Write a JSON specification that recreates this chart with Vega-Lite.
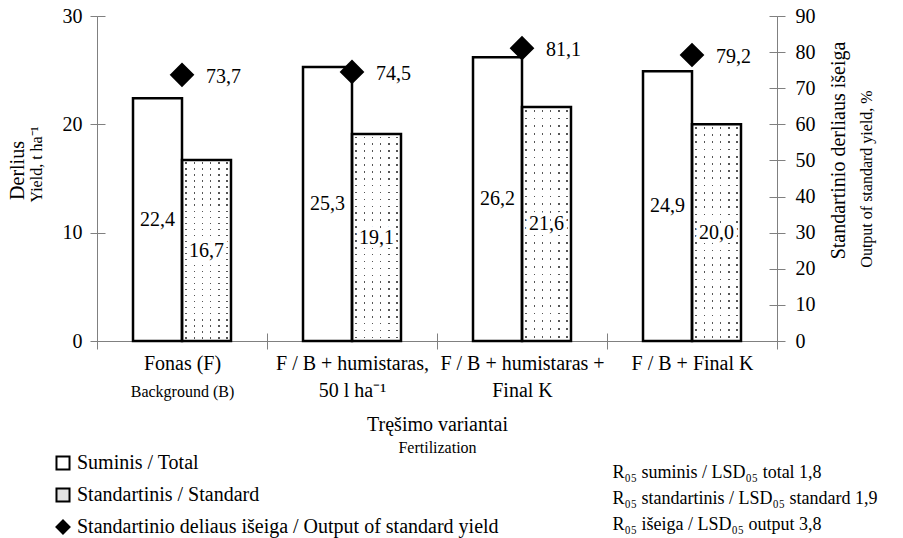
{
  "$schema": "https://vega.github.io/schema/vega-lite/v6.json",
  "width": 680,
  "height": 325,
  "autosize": "none",
  "padding": {"left": 97, "top": 16, "right": 126, "bottom": 197},
  "background": "white",
  "config": {
    "font": "Liberation Serif, Times New Roman, serif",
    "view": {"stroke": null},
    "locale": {"number": {"decimal": ",", "thousands": " ", "grouping": [3], "currency": ["", ""]}},
    "axis": {"grid": false, "domainColor": "#808080", "tickColor": "#808080", "labelColor": "black", "titleColor": "black", "labelFont": "Liberation Serif, Times New Roman, serif", "titleFont": "Liberation Serif, Times New Roman, serif", "titleFontWeight": "normal", "labelFontSize": 20, "titleFontSize": 20},
    "legend": {"labelFont": "Liberation Serif, Times New Roman, serif"},
    "text": {"font": "Liberation Serif, Times New Roman, serif"}
  },
  "datasets": {
    "bars": [
      {"variant": "Fonas (F) / Background (B)", "series": "Suminis", "value": 22.4},
      {"variant": "Fonas (F) / Background (B)", "series": "Standartinis", "value": 16.7},
      {"variant": "F / B + humistaras, 50 l ha⁻¹", "series": "Suminis", "value": 25.3},
      {"variant": "F / B + humistaras, 50 l ha⁻¹", "series": "Standartinis", "value": 19.1},
      {"variant": "F / B + humistaras + Final K", "series": "Suminis", "value": 26.2},
      {"variant": "F / B + humistaras + Final K", "series": "Standartinis", "value": 21.6},
      {"variant": "F / B + Final K", "series": "Suminis", "value": 24.9},
      {"variant": "F / B + Final K", "series": "Standartinis", "value": 20.0}
    ],
    "output": [
      {"variant": "Fonas (F) / Background (B)", "series": "Standartinio deliaus išeiga", "output": 73.7},
      {"variant": "F / B + humistaras, 50 l ha⁻¹", "series": "Standartinio deliaus išeiga", "output": 74.5},
      {"variant": "F / B + humistaras + Final K", "series": "Standartinio deliaus išeiga", "output": 81.1},
      {"variant": "F / B + Final K", "series": "Standartinio deliaus išeiga", "output": 79.2}
    ]
  },
  "layer": [
    {
      "data": {"name": "bars"},
      "transform": [{"filter": "datum.series == 'Standartinis'"}],
      "mark": {"type": "bar", "strokeWidth": 0, "fill": {"gradient": "linear", "x1": 0, "y1": 0, "x2": 1, "y2": 0, "stops": [
        {"offset": 0, "color": "#ffffff"},
        {"offset": 0.07, "color": "#ffffff"}, {"offset": 0.07, "color": "#555555"}, {"offset": 0.1, "color": "#555555"}, {"offset": 0.1, "color": "#ffffff"},
        {"offset": 0.2367, "color": "#ffffff"}, {"offset": 0.2367, "color": "#555555"}, {"offset": 0.2667, "color": "#555555"}, {"offset": 0.2667, "color": "#ffffff"},
        {"offset": 0.4033, "color": "#ffffff"}, {"offset": 0.4033, "color": "#555555"}, {"offset": 0.4333, "color": "#555555"}, {"offset": 0.4333, "color": "#ffffff"},
        {"offset": 0.57, "color": "#ffffff"}, {"offset": 0.57, "color": "#555555"}, {"offset": 0.6, "color": "#555555"}, {"offset": 0.6, "color": "#ffffff"},
        {"offset": 0.7367, "color": "#ffffff"}, {"offset": 0.7367, "color": "#555555"}, {"offset": 0.7667, "color": "#555555"}, {"offset": 0.7667, "color": "#ffffff"},
        {"offset": 0.9033, "color": "#ffffff"}, {"offset": 0.9033, "color": "#555555"}, {"offset": 0.9333, "color": "#555555"}, {"offset": 0.9333, "color": "#ffffff"},
        {"offset": 1, "color": "#ffffff"}
      ]}},
      "encoding": {
        "x": {"field": "variant", "type": "nominal", "sort": null,
          "scale": {"domain": ["Fonas (F) / Background (B)", "F / B + humistaras, 50 l ha⁻¹", "F / B + humistaras + Final K", "F / B + Final K"], "paddingInner": 0, "paddingOuter": 0},
          "axis": {"orient": "bottom", "title": "Tręšimo variantai", "titleFontSize": 20, "titlePadding": 14, "labelFontSize": 20, "labelAngle": 0, "labelLineHeight": 27, "labelPadding": 4, "labelLimit": 400, "labelOverlap": false, "tickSize": 8, "tickBand": "extent",
            "labelExpr": "datum.value == 'Fonas (F) / Background (B)' ? 'Fonas (F)' : datum.value == 'F / B + humistaras, 50 l ha⁻¹' ? ['F / B + humistaras,', '50 l ha⁻¹'] : datum.value == 'F / B + humistaras + Final K' ? ['F / B + humistaras +', 'Final K'] : datum.value == 'F / B + Final K' ? 'F / B + Final K' : ''"}},
        "xOffset": {"field": "series", "type": "nominal", "scale": {"domain": ["Suminis", "Standartinis"], "paddingInner": 0, "paddingOuter": 0.735}},
        "y": {"field": "value", "type": "quantitative", "scale": {"domain": [0, 30], "nice": false},
          "axis": {"orient": "left", "values": [0, 10, 20, 30], "tickSize": 7, "labelPadding": 8, "labelFontSize": 20, "title": "Derlius", "titleFontSize": 20, "titlePadding": 35, "titleY": 154}}
      }
    },
    {
      "data": {"name": "bars"},
      "transform": [{"filter": "datum.series == 'Standartinis'"}],
      "mark": {"type": "bar", "strokeWidth": 0, "fill": {"gradient": "linear", "x1": 0, "y1": 0, "x2": 0, "y2": 1, "stops": [
        {"offset": 0, "color": "#ffffff"},
        {"offset": 0.012, "color": "#ffffff"}, {"offset": 0.012, "color": "rgba(255,255,255,0)"}, {"offset": 0.02, "color": "rgba(255,255,255,0)"}, {"offset": 0.02, "color": "#ffffff"},
        {"offset": 0.0453, "color": "#ffffff"}, {"offset": 0.0453, "color": "rgba(255,255,255,0)"}, {"offset": 0.0533, "color": "rgba(255,255,255,0)"}, {"offset": 0.0533, "color": "#ffffff"},
        {"offset": 0.0787, "color": "#ffffff"}, {"offset": 0.0787, "color": "rgba(255,255,255,0)"}, {"offset": 0.0867, "color": "rgba(255,255,255,0)"}, {"offset": 0.0867, "color": "#ffffff"},
        {"offset": 0.112, "color": "#ffffff"}, {"offset": 0.112, "color": "rgba(255,255,255,0)"}, {"offset": 0.12, "color": "rgba(255,255,255,0)"}, {"offset": 0.12, "color": "#ffffff"},
        {"offset": 0.1453, "color": "#ffffff"}, {"offset": 0.1453, "color": "rgba(255,255,255,0)"}, {"offset": 0.1533, "color": "rgba(255,255,255,0)"}, {"offset": 0.1533, "color": "#ffffff"},
        {"offset": 0.1787, "color": "#ffffff"}, {"offset": 0.1787, "color": "rgba(255,255,255,0)"}, {"offset": 0.1867, "color": "rgba(255,255,255,0)"}, {"offset": 0.1867, "color": "#ffffff"},
        {"offset": 0.212, "color": "#ffffff"}, {"offset": 0.212, "color": "rgba(255,255,255,0)"}, {"offset": 0.22, "color": "rgba(255,255,255,0)"}, {"offset": 0.22, "color": "#ffffff"},
        {"offset": 0.2453, "color": "#ffffff"}, {"offset": 0.2453, "color": "rgba(255,255,255,0)"}, {"offset": 0.2533, "color": "rgba(255,255,255,0)"}, {"offset": 0.2533, "color": "#ffffff"},
        {"offset": 0.2787, "color": "#ffffff"}, {"offset": 0.2787, "color": "rgba(255,255,255,0)"}, {"offset": 0.2867, "color": "rgba(255,255,255,0)"}, {"offset": 0.2867, "color": "#ffffff"},
        {"offset": 0.312, "color": "#ffffff"}, {"offset": 0.312, "color": "rgba(255,255,255,0)"}, {"offset": 0.32, "color": "rgba(255,255,255,0)"}, {"offset": 0.32, "color": "#ffffff"},
        {"offset": 0.3453, "color": "#ffffff"}, {"offset": 0.3453, "color": "rgba(255,255,255,0)"}, {"offset": 0.3533, "color": "rgba(255,255,255,0)"}, {"offset": 0.3533, "color": "#ffffff"},
        {"offset": 0.3787, "color": "#ffffff"}, {"offset": 0.3787, "color": "rgba(255,255,255,0)"}, {"offset": 0.3867, "color": "rgba(255,255,255,0)"}, {"offset": 0.3867, "color": "#ffffff"},
        {"offset": 0.412, "color": "#ffffff"}, {"offset": 0.412, "color": "rgba(255,255,255,0)"}, {"offset": 0.42, "color": "rgba(255,255,255,0)"}, {"offset": 0.42, "color": "#ffffff"},
        {"offset": 0.4453, "color": "#ffffff"}, {"offset": 0.4453, "color": "rgba(255,255,255,0)"}, {"offset": 0.4533, "color": "rgba(255,255,255,0)"}, {"offset": 0.4533, "color": "#ffffff"},
        {"offset": 0.4787, "color": "#ffffff"}, {"offset": 0.4787, "color": "rgba(255,255,255,0)"}, {"offset": 0.4867, "color": "rgba(255,255,255,0)"}, {"offset": 0.4867, "color": "#ffffff"},
        {"offset": 0.512, "color": "#ffffff"}, {"offset": 0.512, "color": "rgba(255,255,255,0)"}, {"offset": 0.52, "color": "rgba(255,255,255,0)"}, {"offset": 0.52, "color": "#ffffff"},
        {"offset": 0.5453, "color": "#ffffff"}, {"offset": 0.5453, "color": "rgba(255,255,255,0)"}, {"offset": 0.5533, "color": "rgba(255,255,255,0)"}, {"offset": 0.5533, "color": "#ffffff"},
        {"offset": 0.5787, "color": "#ffffff"}, {"offset": 0.5787, "color": "rgba(255,255,255,0)"}, {"offset": 0.5867, "color": "rgba(255,255,255,0)"}, {"offset": 0.5867, "color": "#ffffff"},
        {"offset": 0.612, "color": "#ffffff"}, {"offset": 0.612, "color": "rgba(255,255,255,0)"}, {"offset": 0.62, "color": "rgba(255,255,255,0)"}, {"offset": 0.62, "color": "#ffffff"},
        {"offset": 0.6453, "color": "#ffffff"}, {"offset": 0.6453, "color": "rgba(255,255,255,0)"}, {"offset": 0.6533, "color": "rgba(255,255,255,0)"}, {"offset": 0.6533, "color": "#ffffff"},
        {"offset": 0.6787, "color": "#ffffff"}, {"offset": 0.6787, "color": "rgba(255,255,255,0)"}, {"offset": 0.6867, "color": "rgba(255,255,255,0)"}, {"offset": 0.6867, "color": "#ffffff"},
        {"offset": 0.712, "color": "#ffffff"}, {"offset": 0.712, "color": "rgba(255,255,255,0)"}, {"offset": 0.72, "color": "rgba(255,255,255,0)"}, {"offset": 0.72, "color": "#ffffff"},
        {"offset": 0.7453, "color": "#ffffff"}, {"offset": 0.7453, "color": "rgba(255,255,255,0)"}, {"offset": 0.7533, "color": "rgba(255,255,255,0)"}, {"offset": 0.7533, "color": "#ffffff"},
        {"offset": 0.7787, "color": "#ffffff"}, {"offset": 0.7787, "color": "rgba(255,255,255,0)"}, {"offset": 0.7867, "color": "rgba(255,255,255,0)"}, {"offset": 0.7867, "color": "#ffffff"},
        {"offset": 0.812, "color": "#ffffff"}, {"offset": 0.812, "color": "rgba(255,255,255,0)"}, {"offset": 0.82, "color": "rgba(255,255,255,0)"}, {"offset": 0.82, "color": "#ffffff"},
        {"offset": 0.8453, "color": "#ffffff"}, {"offset": 0.8453, "color": "rgba(255,255,255,0)"}, {"offset": 0.8533, "color": "rgba(255,255,255,0)"}, {"offset": 0.8533, "color": "#ffffff"},
        {"offset": 0.8787, "color": "#ffffff"}, {"offset": 0.8787, "color": "rgba(255,255,255,0)"}, {"offset": 0.8867, "color": "rgba(255,255,255,0)"}, {"offset": 0.8867, "color": "#ffffff"},
        {"offset": 0.912, "color": "#ffffff"}, {"offset": 0.912, "color": "rgba(255,255,255,0)"}, {"offset": 0.92, "color": "rgba(255,255,255,0)"}, {"offset": 0.92, "color": "#ffffff"},
        {"offset": 0.9453, "color": "#ffffff"}, {"offset": 0.9453, "color": "rgba(255,255,255,0)"}, {"offset": 0.9533, "color": "rgba(255,255,255,0)"}, {"offset": 0.9533, "color": "#ffffff"},
        {"offset": 0.9787, "color": "#ffffff"}, {"offset": 0.9787, "color": "rgba(255,255,255,0)"}, {"offset": 0.9867, "color": "rgba(255,255,255,0)"}, {"offset": 0.9867, "color": "#ffffff"},
        {"offset": 1, "color": "#ffffff"}
      ]}},
      "encoding": {
        "x": {"field": "variant", "type": "nominal", "sort": null,
          "axis": {"orient": "bottom", "title": "Fertilization", "titleFontSize": 16, "titlePadding": 40, "labelFontSize": 16, "labelAngle": 0, "labelPadding": 50, "labelLimit": 400, "labelOverlap": false, "tickSize": -8, "tickBand": "extent",
            "labelExpr": "datum.value == 'Fonas (F) / Background (B)' ? 'Background (B)' : ''"}},
        "xOffset": {"field": "series", "type": "nominal"},
        "y": {"field": "value", "type": "quantitative", "scale": {"domain": [0, 30], "nice": false},
          "axis": {"orient": "left", "values": [0, 10, 20, 30], "tickSize": -8, "labels": false, "title": "Yield, t ha⁻¹", "titleFontSize": 16, "titlePadding": 52, "titleY": 148}}
      }
    },
    {
      "data": {"name": "bars"},
      "mark": {"type": "bar", "stroke": "black", "strokeWidth": 2.5},
      "encoding": {
        "x": {"field": "variant", "type": "nominal", "sort": null, "axis": null},
        "xOffset": {"field": "series", "type": "nominal"},
        "y": {"field": "value", "type": "quantitative", "scale": {"domain": [0, 30], "nice": false}, "axis": null},
        "fill": {"condition": {"test": "datum.series == 'Suminis'", "value": "white"}, "value": "transparent"}
      }
    },
    {
      "data": {"name": "bars"},
      "mark": {"type": "text", "fontSize": 20, "fill": "white", "stroke": "white", "strokeWidth": 8, "strokeJoin": "round"},
      "encoding": {
        "x": {"field": "variant", "type": "nominal", "sort": null, "axis": null},
        "xOffset": {"field": "series", "type": "nominal"},
        "y": {"field": "value", "type": "quantitative", "scale": {"domain": [0, 60], "nice": false}, "axis": null},
        "text": {"field": "value", "type": "quantitative", "format": ".1f"}
      }
    },
    {
      "data": {"name": "bars"},
      "mark": {"type": "text", "fontSize": 20, "fill": "black"},
      "encoding": {
        "x": {"field": "variant", "type": "nominal", "sort": null, "axis": null},
        "xOffset": {"field": "series", "type": "nominal"},
        "y": {"field": "value", "type": "quantitative", "scale": {"domain": [0, 60], "nice": false}, "axis": null},
        "text": {"field": "value", "type": "quantitative", "format": ".1f"}
      }
    },
    {
      "data": {"name": "output"},
      "mark": {"type": "point", "shape": "diamond", "filled": true, "size": 480, "opacity": 1, "strokeWidth": 2},
      "encoding": {
        "x": {"field": "variant", "type": "nominal", "sort": null,
          "axis": {"orient": "bottom", "labels": false, "ticks": false, "domain": false, "title": ["R₀₅ suminis / LSD₀₅ total 1,8", "R₀₅ standartinis / LSD₀₅ standard 1,9", "R₀₅ išeiga / LSD₀₅ output 3,8"], "titleFontSize": 18, "titleLineHeight": 26, "titleAlign": "left", "titleBaseline": "top", "titleX": 515, "titleY": 122}},
        "y": {"field": "output", "type": "quantitative", "scale": {"domain": [0, 90], "nice": false},
          "axis": {"orient": "right", "values": [0, 10, 20, 30, 40, 50, 60, 70, 80, 90], "tickSize": 8, "labelPadding": 10, "labelFontSize": 20, "title": "Standartinio derliaus išeiga", "titleFontSize": 20, "titleAngle": -90, "titleBaseline": "top", "titlePadding": 13, "titleY": 134}},
        "shape": {"field": "series", "type": "nominal",
          "scale": {"domain": ["Suminis", "Standartinis", "Standartinio deliaus išeiga"], "range": ["square", "square", "diamond"]},
          "legend": {"orient": "none", "legendX": -44, "legendY": 437, "title": null, "labelFontSize": 20, "labelColor": "black", "symbolSize": 170, "symbolStrokeWidth": 2, "rowPadding": 10, "labelOffset": 4, "labelLimit": 600,
            "labelExpr": "datum.label == 'Suminis' ? 'Suminis / Total' : datum.label == 'Standartinis' ? 'Standartinis / Standard' : 'Standartinio deliaus išeiga / Output of standard yield'"}},
        "fill": {"field": "series", "type": "nominal",
          "scale": {"domain": ["Suminis", "Standartinis", "Standartinio deliaus išeiga"], "range": ["white", "#e2e2e2", "black"]},
          "legend": {"orient": "none", "legendX": -44, "legendY": 437, "title": null, "labelFontSize": 20, "labelColor": "black", "symbolSize": 170, "symbolStrokeWidth": 2, "rowPadding": 10, "labelOffset": 4, "labelLimit": 600,
            "labelExpr": "datum.label == 'Suminis' ? 'Suminis / Total' : datum.label == 'Standartinis' ? 'Standartinis / Standard' : 'Standartinio deliaus išeiga / Output of standard yield'"}},
        "stroke": {"field": "series", "type": "nominal",
          "scale": {"domain": ["Suminis", "Standartinis", "Standartinio deliaus išeiga"], "range": ["black", "black", "black"]},
          "legend": {"orient": "none", "legendX": -44, "legendY": 437, "title": null, "labelFontSize": 20, "labelColor": "black", "symbolSize": 170, "symbolStrokeWidth": 2, "rowPadding": 10, "labelOffset": 4, "labelLimit": 600,
            "labelExpr": "datum.label == 'Suminis' ? 'Suminis / Total' : datum.label == 'Standartinis' ? 'Standartinis / Standard' : 'Standartinio deliaus išeiga / Output of standard yield'"}}
      }
    },
    {
      "data": {"name": "output"},
      "mark": {"type": "text", "fontSize": 20, "align": "left", "baseline": "middle", "dx": 24, "dy": 2, "fill": "black"},
      "encoding": {
        "x": {"field": "variant", "type": "nominal", "sort": null, "axis": null},
        "y": {"field": "output", "type": "quantitative", "scale": {"domain": [0, 90], "nice": false},
          "axis": {"orient": "right", "values": [0, 10, 20, 30, 40, 50, 60, 70, 80, 90], "tickSize": -8, "labels": false, "title": "Output of standard yield, %", "titleFontSize": 16, "titleAngle": -90, "titleBaseline": "top", "titlePadding": 81}},
        "text": {"field": "output", "type": "quantitative", "format": ".1f"}
      }
    }
  ],
  "resolve": {"scale": {"y": "independent"}, "axis": {"x": "independent", "y": "independent"}}
}
